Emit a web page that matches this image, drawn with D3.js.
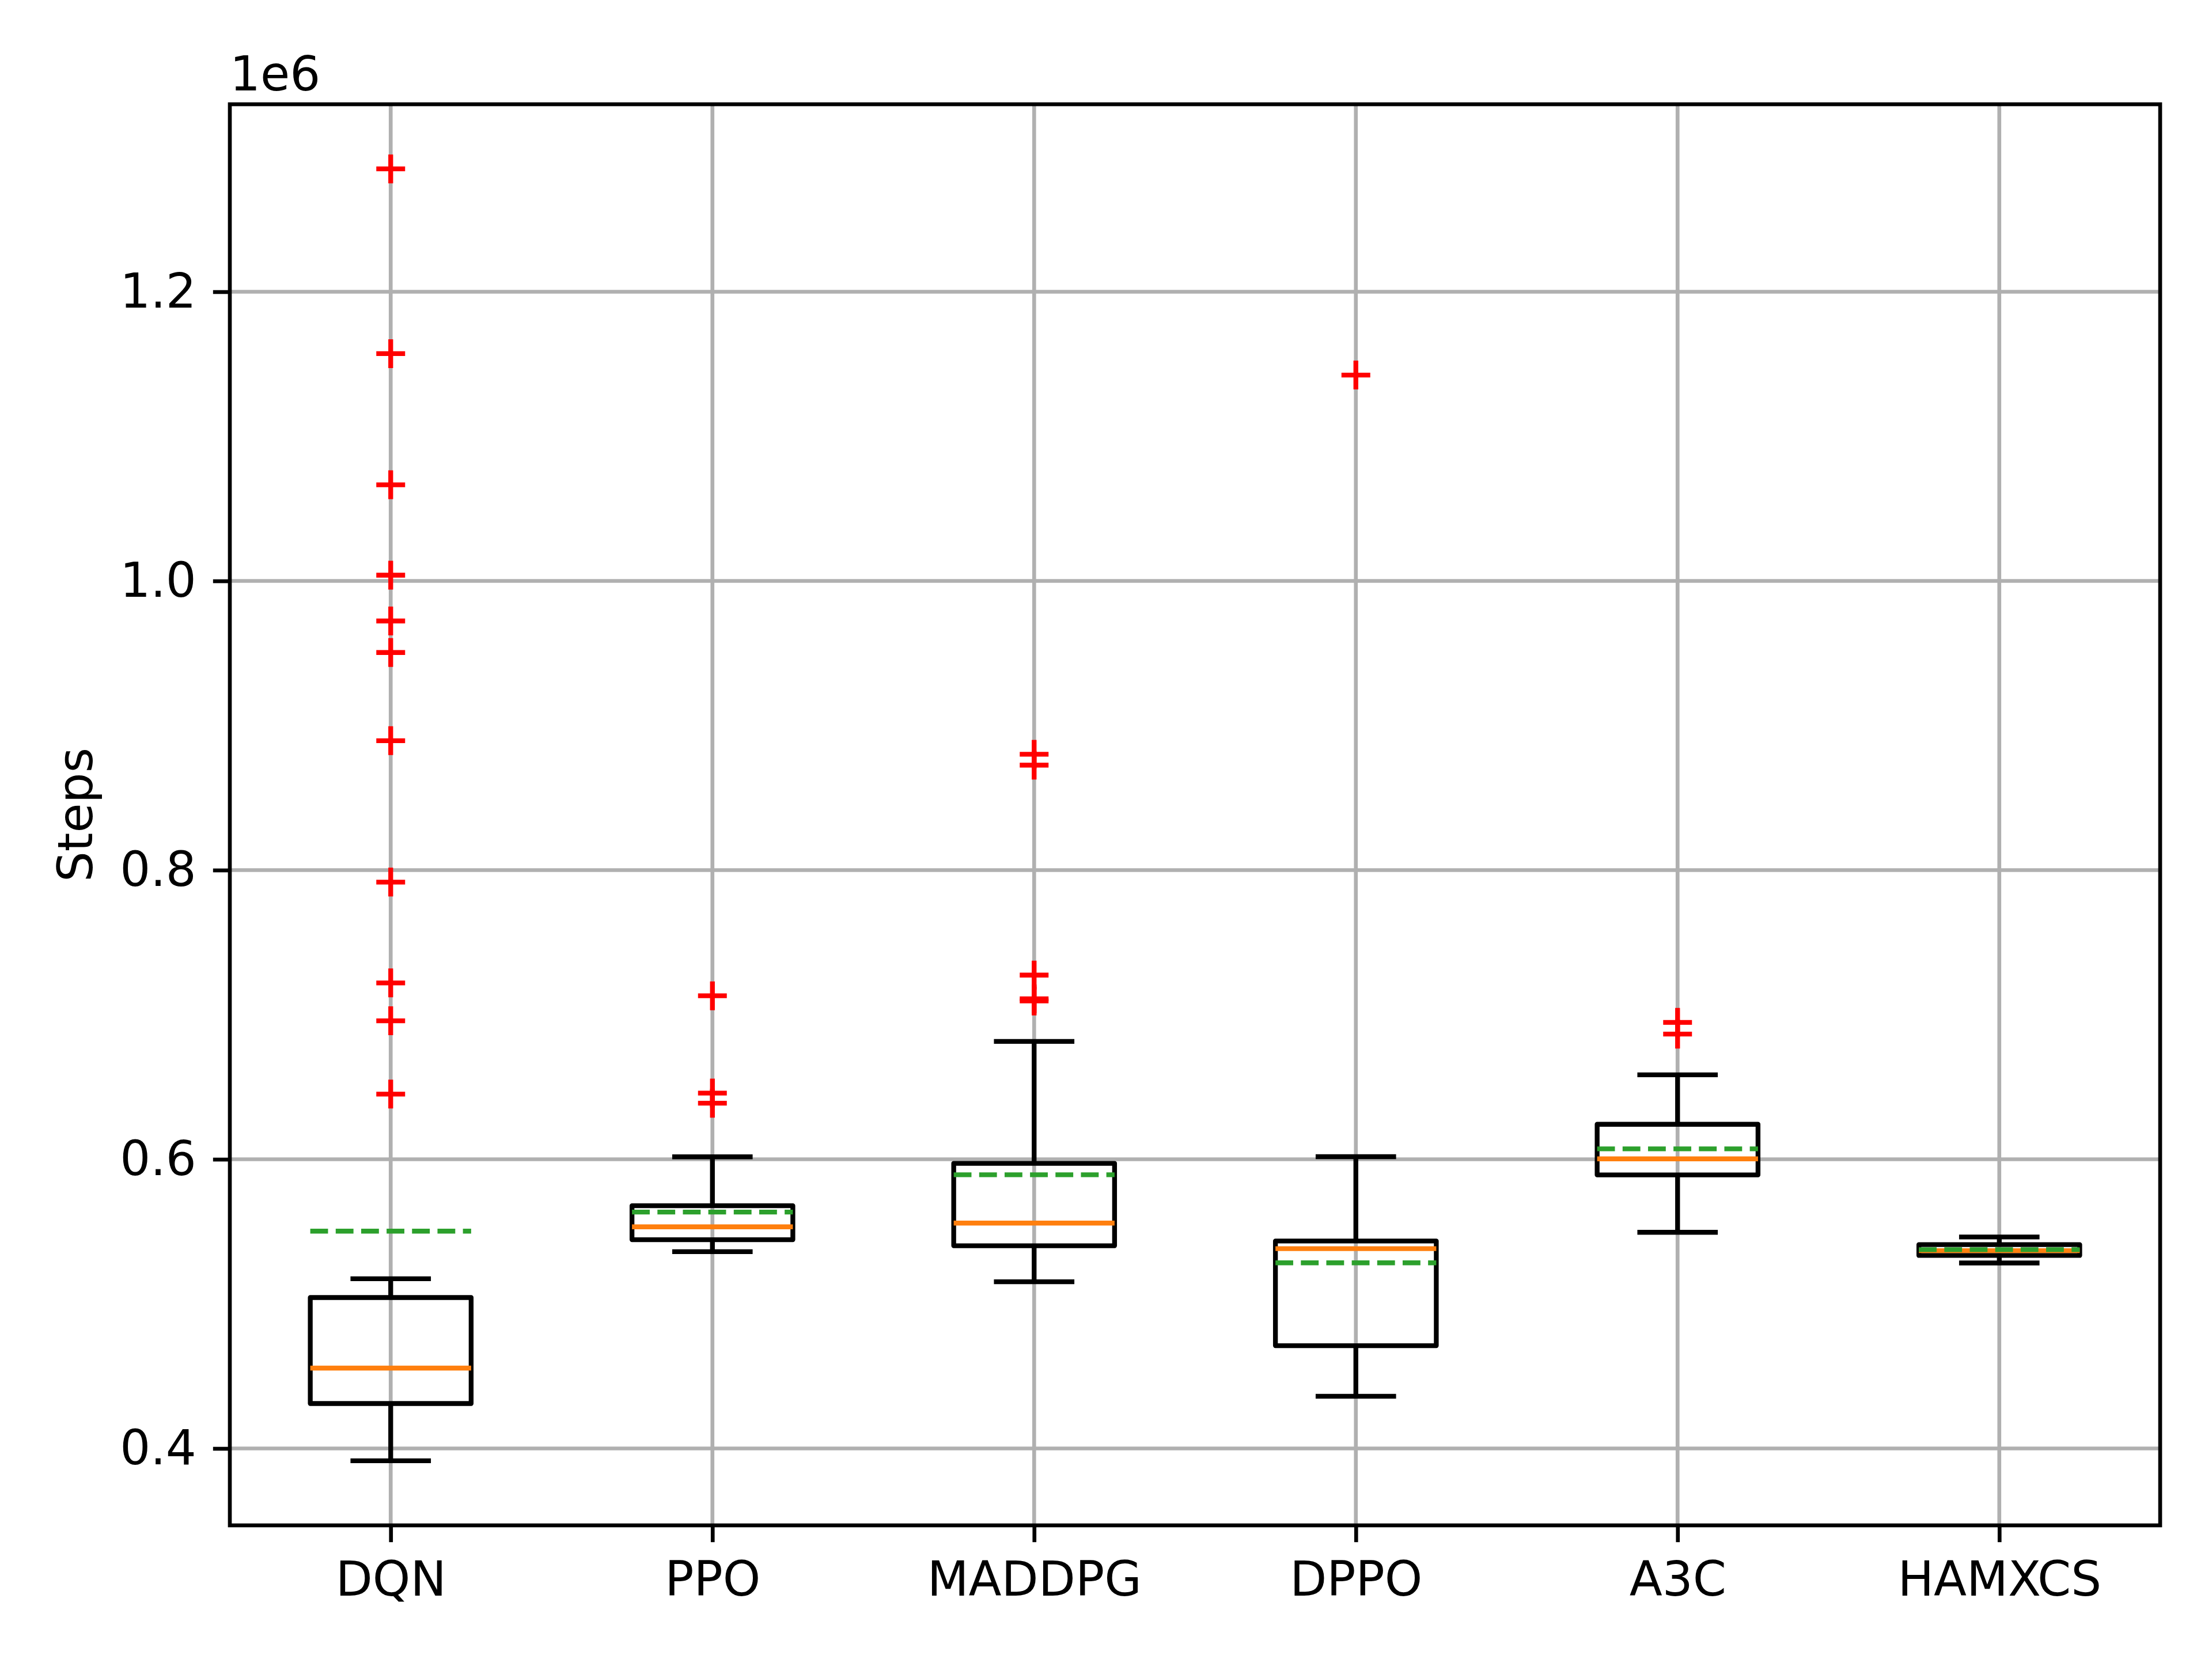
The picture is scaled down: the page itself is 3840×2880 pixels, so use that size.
<!DOCTYPE html>
<html>
<head>
<meta charset="utf-8">
<script src="https://cdn.jsdelivr.net/npm/d3@7"></script>
<style>
  html, body { margin: 0; padding: 0; background: #fff; }
  svg { display: block; }
  text { font-family: "DejaVu Sans", sans-serif; }
</style>
</head>
<body>
<div id="chart"></div>
<script>
// values are in units of 1e6 steps
const categories = ["DQN", "PPO", "MADDPG", "DPPO", "A3C", "HAMXCS"];
const q1 = [0.4311, 0.5444, 0.5402, 0.4711, 0.5892, 0.5335];
const medians = [0.4556, 0.5533, 0.5559, 0.5382, 0.6003, 0.5368];
const q3 = [0.5044, 0.5679, 0.5972, 0.5435, 0.6242, 0.5410];
const whiskerLow = [0.3915, 0.5361, 0.5153, 0.4361, 0.5495, 0.5283];
const whiskerHigh = [0.5174, 0.6017, 0.6815, 0.6018, 0.6584, 0.5463];
const means = [0.5503, 0.5635, 0.5893, 0.5284, 0.6072, 0.5375];
const fliers = [
  [1.2850, 1.1572, 1.0665, 1.0040, 0.9723, 0.9505, 0.8895, 0.7917, 0.7220, 0.6958, 0.6451],
  [0.7131, 0.6458, 0.6388],
  [0.8801, 0.8726, 0.7274, 0.7110, 0.7095],
  [1.1424],
  [0.6947, 0.6866],
  []
];
const yTicks = [0.4, 0.6, 0.8, 1.0, 1.2];

const W = 3840, H = 2880;
const pt = 600 / 72; // px per point at 600 dpi
const margin = {left: 399, right: W - 3750, top: 181, bottom: H - 2648};
const fontSize = 10 * pt;

const svg = d3.select("#chart").append("svg")
    .attr("width", W)
    .attr("height", H)
    .attr("viewBox", `0 0 ${W} ${H}`);

svg.append("rect").attr("width", W).attr("height", H).attr("fill", "#fff");

const x = d3.scaleLinear()
    .domain([0.5, categories.length + 0.5])
    .range([margin.left, W - margin.right]);

// matplotlib style autoscale: 5% margin on the data extent
const allVals = [].concat(whiskerLow, whiskerHigh, ...fliers);
const lo = d3.min(allVals), hi = d3.max(allVals);
const pad = (hi - lo) * 0.05;
const y = d3.scaleLinear()
    .domain([lo - pad, hi + pad])
    .range([H - margin.bottom, margin.top]);

const g = svg.append("g");

// grid
g.append("g").selectAll("line").data(yTicks).join("line")
    .attr("x1", margin.left).attr("x2", W - margin.right)
    .attr("y1", d => y(d)).attr("y2", d => y(d))
    .attr("stroke", "#b0b0b0").attr("stroke-width", 0.8 * pt);
g.append("g").selectAll("line").data(categories).join("line")
    .attr("x1", (d, i) => x(i + 1)).attr("x2", (d, i) => x(i + 1))
    .attr("y1", margin.top).attr("y2", H - margin.bottom)
    .attr("stroke", "#b0b0b0").attr("stroke-width", 0.8 * pt);

const boxW = 0.5, capW = 0.25;
const lw = 1 * pt;

categories.forEach((c, i) => {
  const pos = i + 1;
  const bx0 = x(pos - boxW / 2), bx1 = x(pos + boxW / 2);
  const cx0 = x(pos - capW / 2), cx1 = x(pos + capW / 2);
  const b = g.append("g");

  // whiskers
  b.append("line").attr("x1", x(pos)).attr("x2", x(pos))
      .attr("y1", y(q1[i])).attr("y2", y(whiskerLow[i]))
      .attr("stroke", "#000").attr("stroke-width", lw);
  b.append("line").attr("x1", x(pos)).attr("x2", x(pos))
      .attr("y1", y(q3[i])).attr("y2", y(whiskerHigh[i]))
      .attr("stroke", "#000").attr("stroke-width", lw);
  // caps
  [whiskerLow[i], whiskerHigh[i]].forEach(v => {
    b.append("line").attr("x1", cx0).attr("x2", cx1)
        .attr("y1", y(v)).attr("y2", y(v))
        .attr("stroke", "#000").attr("stroke-width", lw);
  });
  // box
  b.append("rect")
      .attr("x", bx0).attr("y", y(q3[i]))
      .attr("width", bx1 - bx0).attr("height", y(q1[i]) - y(q3[i]))
      .attr("fill", "none").attr("stroke", "#000").attr("stroke-width", lw)
      .attr("stroke-linejoin", "round");
  // median
  b.append("line").attr("x1", bx0).attr("x2", bx1)
      .attr("y1", y(medians[i])).attr("y2", y(medians[i]))
      .attr("stroke", "#ff7f0e").attr("stroke-width", lw);
  // mean line
  b.append("line").attr("x1", bx0).attr("x2", bx1)
      .attr("y1", y(means[i])).attr("y2", y(means[i]))
      .attr("stroke", "#2ca02c").attr("stroke-width", lw)
      .attr("stroke-dasharray", `${3.7 * lw} ${1.6 * lw}`);
  // fliers
  const ms = 6 * pt / 2;
  b.selectAll("path.flier").data(fliers[i]).join("path")
      .attr("class", "flier")
      .attr("d", v => `M${x(pos) - ms},${y(v)}H${x(pos) + ms}M${x(pos)},${y(v) - ms}V${y(v) + ms}`)
      .attr("stroke", "red").attr("stroke-width", lw).attr("fill", "none");
});

// axes
const xAxis = d3.axisBottom(x)
    .tickValues(categories.map((d, i) => i + 1))
    .tickFormat((d, i) => categories[i])
    .tickSize(3.5 * pt).tickPadding(34);
const gx = svg.append("g")
    .attr("transform", `translate(0,${H - margin.bottom})`)
    .call(xAxis);
gx.select(".domain").remove();
gx.selectAll(".tick line").attr("stroke", "#000").attr("stroke-width", 0.8 * pt);
gx.selectAll(".tick text").attr("font-size", fontSize).attr("fill", "#000")
    .attr("font-family", "DejaVu Sans");

const yAxis = d3.axisLeft(y)
    .tickValues(yTicks)
    .tickFormat(d3.format(".1f"))
    .tickSize(3.5 * pt).tickPadding(3.5 * pt);
const gy = svg.append("g")
    .attr("transform", `translate(${margin.left},0)`)
    .call(yAxis);
gy.select(".domain").remove();
gy.selectAll(".tick line").attr("stroke", "#000").attr("stroke-width", 0.8 * pt);
gy.selectAll(".tick text").attr("font-size", fontSize).attr("fill", "#000")
    .attr("font-family", "DejaVu Sans");

// spines
svg.append("rect")
    .attr("x", margin.left).attr("y", margin.top)
    .attr("width", W - margin.left - margin.right)
    .attr("height", H - margin.top - margin.bottom)
    .attr("fill", "none").attr("stroke", "#000").attr("stroke-width", 0.8 * pt)
    .attr("stroke-linejoin", "miter");

// offset text and y label
svg.append("text")
    .attr("x", margin.left).attr("y", 157)
    .attr("font-size", fontSize)
    .text("1e6");

svg.append("text")
    .attr("transform", `translate(160,${(margin.top + H - margin.bottom) / 2}) rotate(-90)`)
    .attr("text-anchor", "middle")
    .attr("font-size", fontSize)
    .text("Steps");
</script>
</body>
</html>
